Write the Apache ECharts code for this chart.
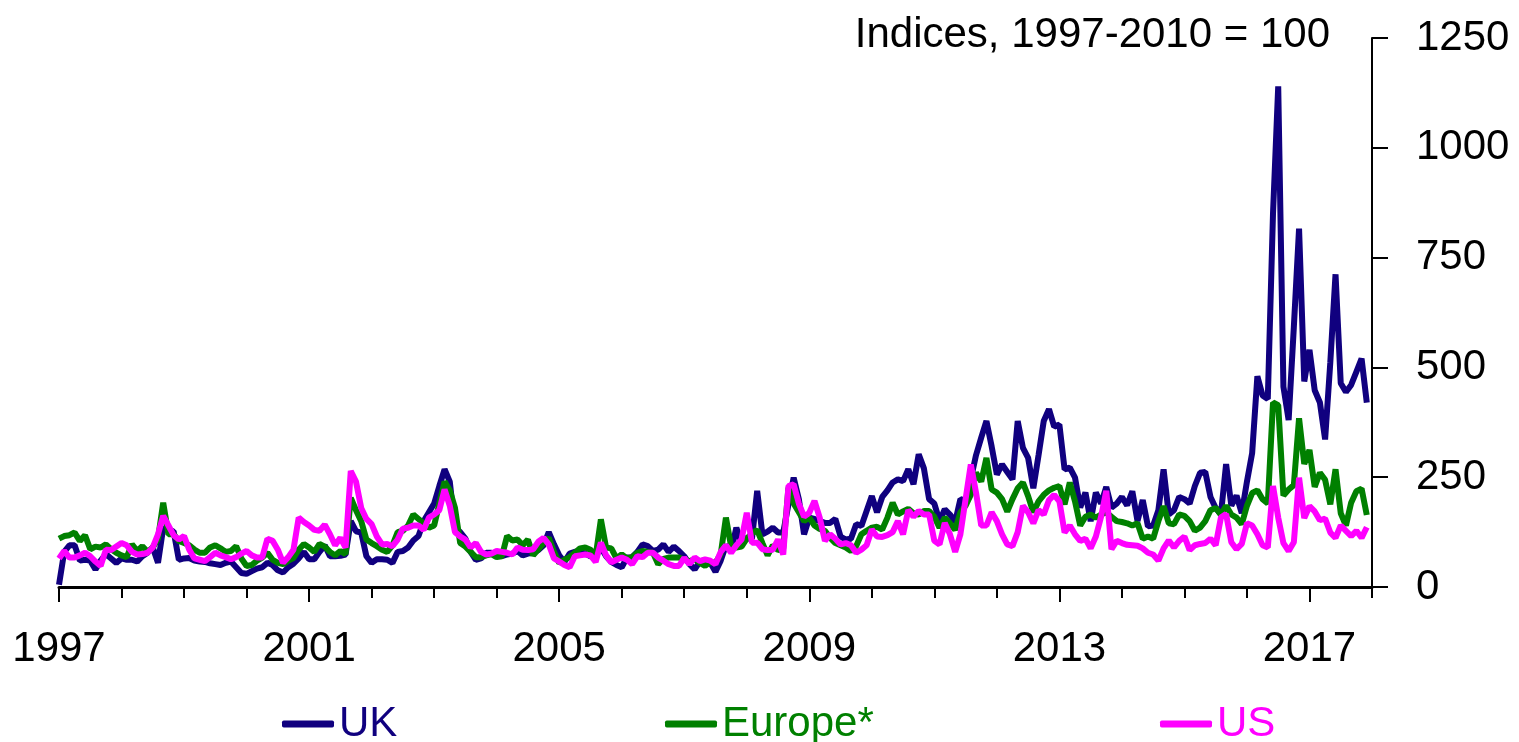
<!DOCTYPE html>
<html>
<head>
<meta charset="utf-8">
<script src="https://cdn.jsdelivr.net/npm/echarts@6/dist/echarts.min.js"></script>
<style>
  html, body { margin: 0; padding: 0; background: #fff; }
  #chart { width: 1519px; height: 742px; }
</style>
</head>
<body>
<div id="chart"></div>
<script>
// Monthly index values, Jan 1997 .. Dec 2017 (one row per year)
const startYear = 1997;
const ukValues = [
  5, 80, 95, 95, 60, 62, 60, 40, 60, 75, 65, 55,
  65, 62, 62, 58, 70, 78, 90, 55, 135, 128, 127, 62,
  65, 66, 60, 58, 57, 54, 52, 50, 55, 58, 45, 32,
  30, 36, 42, 45, 55, 50, 38, 33, 45, 53, 65, 80,
  63, 63, 80, 95, 70, 70, 71, 74, 150, 127, 124, 70,
  55, 63, 63, 62, 55, 80, 82, 90, 106, 116, 150, 170,
  190, 230, 268, 240, 135, 125, 110, 80, 62, 65, 78, 78,
  74, 70, 74, 76, 82, 72, 76, 78, 84, 95, 125, 97,
  72, 57, 76, 80, 80, 76, 70, 70, 90, 70, 57, 50,
  45, 67, 68, 80, 97, 93, 82, 85, 97, 80, 92, 82,
  70, 52, 40, 58, 62, 55, 35, 60, 95, 82, 135, 100,
  112, 110, 219, 120, 126, 135, 124, 124, 188, 249, 200, 120,
  158, 155, 150, 146, 146, 155, 115, 108, 110, 143, 139, 173,
  207, 170, 205, 220, 238, 245, 241, 268, 234, 302, 270, 200,
  190, 150, 177, 165, 148, 200, 196, 245, 300, 340, 378, 320,
  256, 279, 262, 245, 378, 317, 294, 225, 300, 378, 405, 365,
  370, 268, 272, 249, 181, 215, 150, 215, 190, 228, 181, 190,
  205, 186, 218, 150, 198, 138, 140, 175, 268, 165, 175, 205,
  200, 190, 230, 260, 262, 205, 180, 165, 280, 185, 208, 168,
  240, 305, 480, 436, 428, 850, 1140, 456, 380, 592, 816, 468,
  540, 448, 420, 336, 512, 712, 464, 444, 460, 490, 520, 420
];
const europeValues = [
  110, 116, 118, 124, 105, 118, 86, 92, 90, 97, 86, 78,
  72, 68, 97, 82, 93, 80, 90, 110, 192, 120, 120, 105,
  100, 95, 85, 78, 78, 90, 95, 88, 80, 82, 93, 65,
  48, 50, 60, 67, 78, 62, 55, 52, 60, 66, 85, 98,
  90, 80, 98, 92, 80, 72, 82, 75, 203, 175, 150, 108,
  100, 93, 85, 80, 95, 125, 128, 140, 165, 155, 145, 135,
  140, 190, 240, 220, 180, 100, 92, 80, 68, 68, 72, 75,
  68, 70, 116, 106, 108, 95, 108, 72, 86, 100, 112, 80,
  55, 62, 68, 78, 88, 90, 85, 70, 154, 90, 88, 65,
  74, 65, 68, 78, 82, 80, 78, 52, 64, 67, 67, 67,
  62, 59, 63, 55, 48, 57, 55, 75, 158, 92, 90, 92,
  110, 122, 130, 100, 72, 95, 84, 88, 226, 190, 170, 150,
  158, 140, 132, 128, 112, 100, 95, 90, 82, 93, 120, 128,
  135, 137, 131, 158, 192, 165, 172, 178, 168, 165, 173, 173,
  160, 135, 158, 145, 130, 170, 185, 210, 260, 240, 294, 222,
  215, 200, 172, 200, 225, 238, 207, 170, 195, 210, 220, 226,
  230, 188, 238, 195, 140, 160, 165, 158, 165, 170, 160, 150,
  148, 145, 140, 145, 110, 115, 110, 150, 184, 145, 143, 165,
  162, 150, 128, 135, 150, 175, 180, 165, 185, 165, 158, 143,
  185, 214, 220, 200, 190, 420, 414, 208, 222, 232, 384, 280,
  312, 228, 260, 244, 188, 268, 168, 140, 192, 218, 224, 164
];
const usValues = [
  65, 82, 67, 67, 72, 78, 70, 58, 48, 85, 84, 92,
  100, 95, 80, 74, 75, 78, 90, 120, 162, 140, 118, 108,
  116, 85, 65, 62, 59, 68, 78, 72, 68, 63, 68, 76,
  82, 72, 67, 67, 110, 105, 85, 55, 68, 85, 158, 148,
  140, 130, 128, 142, 120, 95, 112, 90, 264, 240, 180, 155,
  143, 115, 97, 98, 93, 108, 133, 135, 140, 140, 130, 158,
  165, 175, 222, 185, 125, 115, 108, 90, 100, 80, 74, 76,
  82, 80, 78, 74, 90, 85, 84, 86, 103, 112, 97, 65,
  58, 50, 45, 70, 72, 74, 72, 57, 101, 72, 56, 62,
  67, 62, 52, 70, 68, 78, 78, 67, 60, 52, 48, 48,
  66, 52, 67, 59, 63, 60, 52, 80, 95, 78, 95, 108,
  169, 101, 101, 86, 84, 85, 108, 74, 230, 234, 190, 160,
  169, 196, 158, 105, 120, 110, 97, 100, 95, 78, 85, 95,
  131, 115, 114, 118, 125, 150, 120, 175, 160, 173, 165, 165,
  105, 97, 146, 120, 80, 120, 200, 279, 215, 140, 140, 170,
  150, 120, 97, 93, 125, 185, 170, 145, 175, 165, 198, 210,
  195, 124, 140, 120, 105, 110, 88, 115, 160, 219, 86, 105,
  100, 96, 95, 94, 88, 78, 74, 60, 88, 106, 90, 105,
  115, 84, 95, 98, 100, 110, 95, 158, 166, 102, 86, 98,
  145, 140, 120, 95, 90, 230, 158, 100, 82, 102, 249, 157,
  184, 172, 152, 156, 124, 112, 140, 128, 116, 128, 112, 136
];
const seriesNames = ['UK', 'Europe*', 'US'];
const seriesColors = ['#10007F', '#008000', '#FF00FF'];
const labelYears = [1997, 2001, 2005, 2009, 2013, 2017];
const yTicks = [0, 250, 500, 750, 1000, 1250];
const titleText = 'Indices, 1997-2010 = 100';

function toPairs(vals) {
  return vals.map((v, i) => [startYear + i / 12, v]);
}

const FONT = 'Liberation Sans';
const chart = echarts.init(document.getElementById('chart'), null, { renderer: 'canvas' });

const legendLefts = [277, 660, 1155];
const legends = seriesNames.map((n, i) => ({
  data: [{ name: n, textStyle: { color: seriesColors[i] } }],
  left: legendLefts[i],
  top: 698,
  icon: 'roundRect',
  itemWidth: 52,
  itemHeight: 7,
  textStyle: { fontSize: 42, fontFamily: FONT },
  selectedMode: false
}));

const option = {
  animation: false,
  backgroundColor: '#ffffff',
  title: {
    text: titleText,
    right: 184,
    top: 9,
    textStyle: { fontSize: 42, fontWeight: 'normal', color: '#000', fontFamily: FONT }
  },
  legend: legends,
  grid: { left: 59, right: 147, top: 38, bottom: 155, containLabel: false },
  xAxis: [
    {
      type: 'value', min: 1997, max: 2018, interval: 1, position: 'bottom',
      axisLine: { show: true, onZero: false, lineStyle: { color: '#000', width: 3 } },
      axisTick: { show: true, length: 11, lineStyle: { color: '#000', width: 2 } },
      axisLabel: { show: false },
      splitLine: { show: false }
    },
    {
      type: 'value', min: 1997, max: 2018, interval: 4, position: 'bottom',
      axisLine: { show: false },
      axisTick: { show: true, length: 15, customValues: labelYears, lineStyle: { color: '#000', width: 2 } },
      axisLabel: {
        show: true, customValues: labelYears, fontSize: 42, margin: 41, color: '#000', fontFamily: FONT,
        formatter: v => (labelYears.indexOf(Math.round(v)) >= 0 ? String(Math.round(v)) : '')
      },
      splitLine: { show: false }
    }
  ],
  yAxis: {
    type: 'value', min: 0, max: 1250, interval: 250, position: 'right',
    axisLine: { show: true, lineStyle: { color: '#000', width: 2 } },
    axisTick: { show: true, inside: false, length: 16, customValues: yTicks, lineStyle: { color: '#000', width: 2 } },
    axisLabel: {
      fontSize: 42, margin: 44, color: '#000', fontFamily: FONT, customValues: yTicks,
      formatter: v => String(v)
    },
    splitLine: { show: false }
  },
  series: [ukValues, europeValues, usValues].map((vals, i) => ({
    name: seriesNames[i],
    type: 'line',
    xAxisIndex: 0,
    data: toPairs(vals),
    showSymbol: false,
    symbol: 'none',
    lineStyle: { color: seriesColors[i], width: 6 },
    itemStyle: { color: seriesColors[i] },
    z: 2 + i
  }))
};
chart.setOption(option);
</script>
</body>
</html>
